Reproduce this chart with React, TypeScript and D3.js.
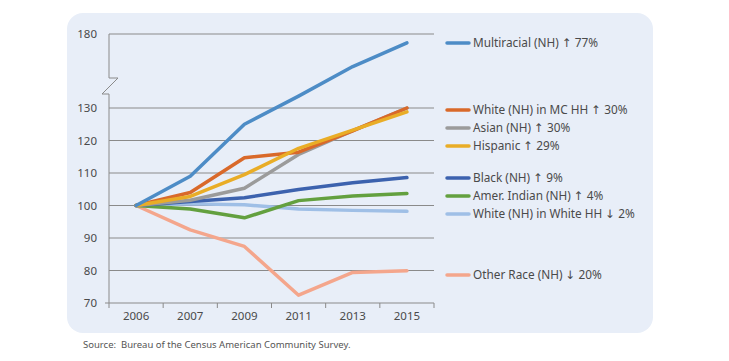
import * as d3 from 'd3'
import { useEffect, useRef } from 'react'

const years = ['2006', '2007', '2009', '2011', '2013', '2015']
const yTicks = [70, 80, 90, 100, 110, 120, 130, 180]

const multiracial = [100, 109, 125, 138, 158, 174]
const whiteMcHh = [100, 104, 114.7, 116.4, 123, 130]
const asian = [100, 101.6, 105.3, 115.7, 123, 130]
const hispanic = [100, 102.8, 109.5, 117.6, 123.2, 128.8]
const black = [100, 101.2, 102.4, 104.9, 107, 108.6]
const amerIndian = [100, 98.9, 96.2, 101.5, 102.9, 103.7]
const whiteWhiteHh = [100, 100.5, 100.2, 98.9, 98.5, 98.2]
const otherRace = [100, 92.5, 87.4, 72.4, 79.4, 79.9]

const seriesNames = [
  'Multiracial (NH) ↑ 77%',
  'White (NH) in MC HH ↑ 30%',
  'Asian (NH) ↑ 30%',
  'Hispanic ↑ 29%',
  'Black (NH) ↑ 9%',
  'Amer. Indian (NH) ↑ 4%',
  'White (NH) in White HH ↓ 2%',
  'Other Race (NH) ↓ 20%',
]
const seriesValues = [multiracial, whiteMcHh, asian, hispanic, black, amerIndian, whiteWhiteHh, otherRace]
const seriesColors = ['#4d8cc6', '#d9692a', '#9b9b9b', '#e9ad27', '#3c62ae', '#63a03f', '#9fbfe6', '#f4a68c']
// legend rows sit at these y offsets (px)
const legendY = [43, 110, 128, 146, 178, 196, 214, 275]

const W = 729
const H = 361
const left = 109
const right = 434
const top = 34
const bottom = 303

const App = () => {
  const ref = useRef<SVGSVGElement>(null)

  useEffect(() => {
    if (!ref.current) return
    const svg = d3.select(ref.current)
    svg.selectAll('*').remove()

    const font = "'Noto Sans', 'DejaVu Sans', sans-serif"
    const textColor = '#4a4a4a'

    svg.append('rect')
      .attr('x', 67).attr('y', 13)
      .attr('width', 586).attr('height', 320)
      .attr('rx', 16)
      .attr('fill', '#e8eef8')

    const x = d3.scaleBand<string>().domain(years).range([left, right])
    // broken axis: 70-130 normal, 130-180 compressed
    const y = d3.scaleLinear().domain([70, 130, 180]).range([bottom, 108, top])

    const g = svg.append('g')

    // gridlines
    g.selectAll('line.grid')
      .data(yTicks.filter(t => t !== 70))
      .join('line')
      .attr('x1', left).attr('x2', right)
      .attr('y1', d => y(d)).attr('y2', d => y(d))
      .attr('stroke', '#8a8a8a').attr('stroke-width', 1)

    // y labels
    g.selectAll('text.ylab')
      .data(yTicks)
      .join('text')
      .attr('x', 97).attr('y', d => y(d))
      .attr('dy', '0.35em')
      .attr('text-anchor', 'end')
      .attr('font-family', font).attr('font-size', 11.5)
      .attr('fill', textColor)
      .text(d => d)

    // y axis with break mark
    g.append('path')
      .attr('d', `M${left},${top}V78H118L102,94H${left}V${bottom}`)
      .attr('fill', 'none').attr('stroke', '#8a8a8a').attr('stroke-width', 1)

    // x axis
    const xAxis = g.append('g').attr('transform', `translate(0,${bottom})`)
    xAxis.append('line')
      .attr('x1', 105).attr('x2', right)
      .attr('stroke', '#8a8a8a')
    const edges = years.map(yr => x(yr) as number).concat([right])
    xAxis.selectAll('line.tick')
      .data(edges)
      .join('line')
      .attr('x1', d => d).attr('x2', d => d)
      .attr('y1', 0).attr('y2', 5)
      .attr('stroke', '#8a8a8a')
    xAxis.selectAll('text')
      .data(years)
      .join('text')
      .attr('x', d => (x(d) as number) + x.bandwidth() / 2)
      .attr('y', 13)
      .attr('dy', '0.35em')
      .attr('text-anchor', 'middle')
      .attr('font-family', font).attr('font-size', 11.5)
      .attr('fill', textColor)
      .text(d => d)

    const line = d3.line<number>()
      .x((_, i) => (x(years[i]) as number) + x.bandwidth() / 2)
      .y(d => y(d))

    // draw back to front
    const order = [7, 6, 5, 4, 2, 1, 3, 0]
    order.forEach(i => {
      g.append('path')
        .attr('d', line(seriesValues[i]) as string)
        .attr('fill', 'none')
        .attr('stroke', seriesColors[i])
        .attr('stroke-width', 3.5)
        .attr('stroke-linejoin', 'round')
        .attr('stroke-linecap', 'round')
    })

    // legend
    const lg = svg.append('g')
    seriesNames.forEach((name, i) => {
      lg.append('line')
        .attr('x1', 447).attr('x2', 469)
        .attr('y1', legendY[i]).attr('y2', legendY[i])
        .attr('stroke', seriesColors[i]).attr('stroke-width', 3.5)
        .attr('stroke-linecap', 'round')
      lg.append('text')
        .attr('x', 473).attr('y', legendY[i])
        .attr('dy', '0.35em')
        .attr('font-family', font).attr('font-size', 11.8)
        .attr('fill', textColor)
        .text(name)
    })

    svg.append('text')
      .attr('x', 83).attr('y', 345)
      .attr('dy', '0.35em')
      .attr('font-family', font).attr('font-size', 9.5)
      .attr('fill', '#555')
      .style('white-space', 'pre')
      .text('Source:  Bureau of the Census American Community Survey.')
  }, [])

  return (
    <svg
      ref={ref}
      width={W}
      height={H}
      style={{ position: 'absolute', left: 0, top: 0, background: '#fff' }}
    />
  )
}

export default App
